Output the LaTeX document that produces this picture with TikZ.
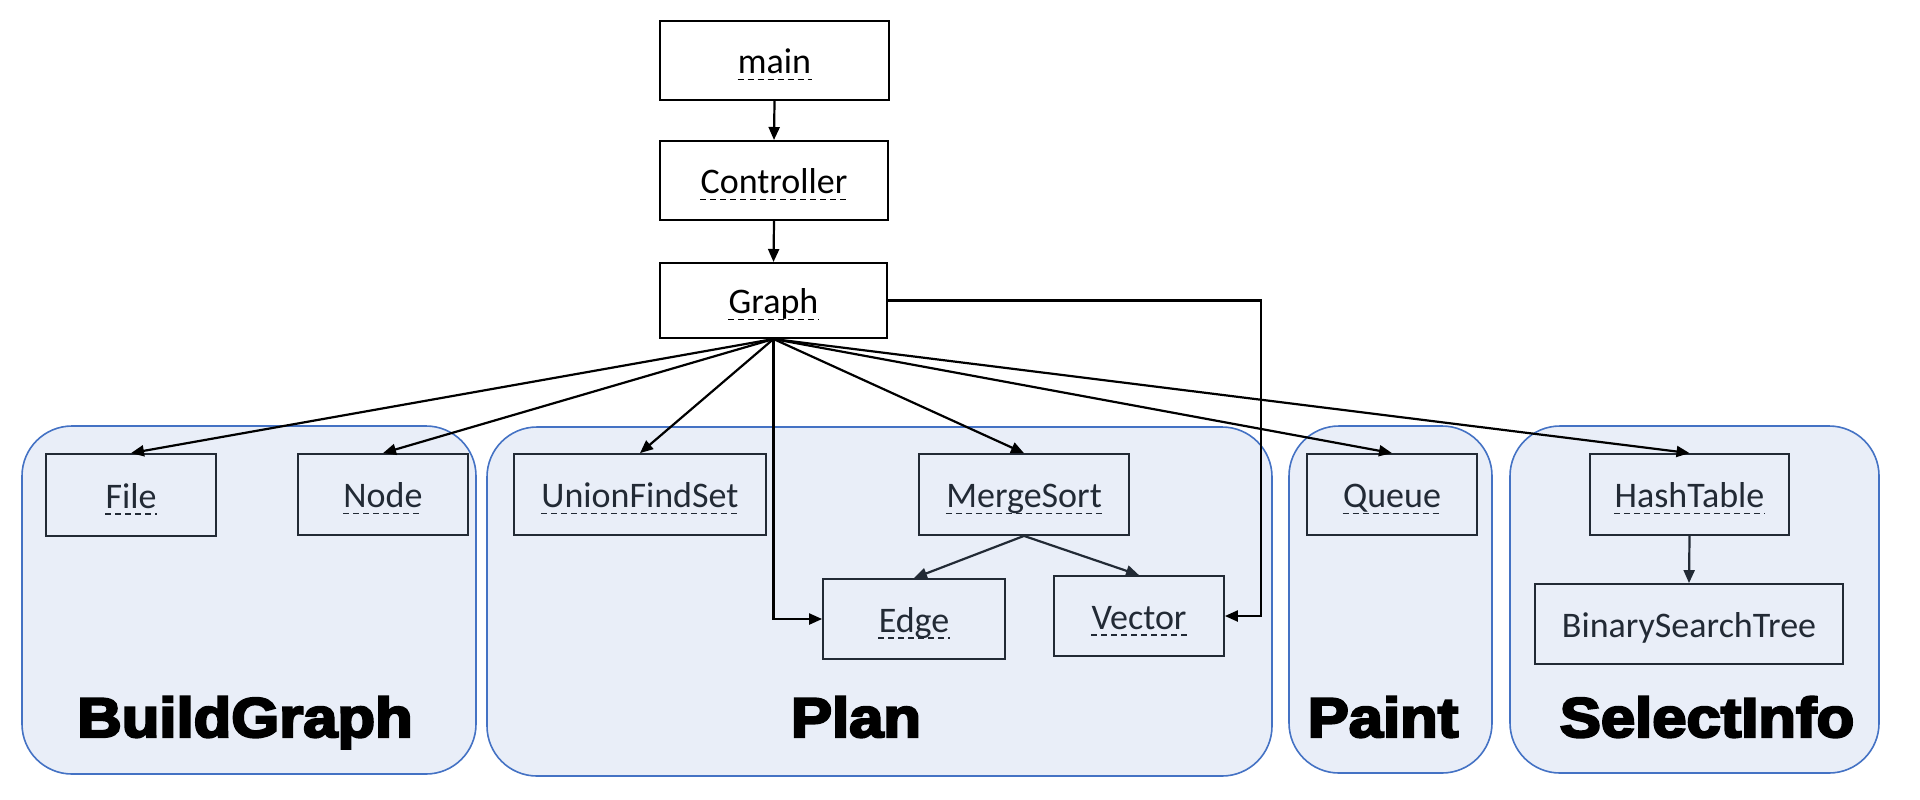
\documentclass[tikz,border=0pt]{standalone}
\usepackage{fontspec}
\usepackage{graphicx}
\setmainfont{Carlito}
\newfontfamily\grpfont{Liberation Sans}[BoldFeatures={FakeBold=4}]
\usetikzlibrary{arrows.meta,fit}
\definecolor{contfill}{RGB}{233,238,248}
\definecolor{contline}{RGB}{68,114,196}
\definecolor{dark}{RGB}{34,42,53}
\begin{document}
\begin{tikzpicture}[x=0.5pt,y=-0.5pt,
 cont/.style={draw=contline, fill=contfill, line width=0.8pt, rounded corners=25pt, inner sep=0pt},
 topbox/.style={draw=black, line width=1pt, inner sep=0pt},
 inbox/.style={draw=dark, line width=0.9pt, inner sep=0pt},
 lbl/.style={inner sep=0pt, anchor=base, yshift=-6.5pt, font=\fontsize{18}{20}\selectfont},
 grp/.style={inner sep=0pt, anchor=base, font=\grpfont\bfseries\fontsize{28}{30}\selectfont},
 ul/.style={line width=0.6pt, dash pattern=on 3pt off 2pt},
 arr/.style={line width=1.1pt, -{Triangle[length=6.5pt,width=5.5pt]}},
]
\useasboundingbox (0,0) rectangle (1920,799);
% containers
\node[cont, fit={(22,426) (476,774)}] (bgC) {};
\node[cont, fit={(487,427) (1272,776)}] (planC) {};
\node[cont, fit={(1289,426) (1492,773)}] (paintC) {};
\node[cont, fit={(1510,426) (1879,773)}] (selC) {};
% group labels
\node[grp] (bgT) at (245,737) {\scalebox{1.1}[1]{BuildGraph}};
\node[grp] (planT) at (856,737) {\scalebox{1.1}[1]{Plan}};
\node[grp] (paintT) at (1383,737) {\scalebox{1.1}[1]{Paint}};
\node[grp] (selT) at (1707,737) {\scalebox{1.1}[1]{SelectInfo}};
% boxes
\node[topbox, fit={(660,21) (889,100)}] (main) {};
\node[topbox, fit={(660,141) (888,220)}] (ctrl) {};
\node[topbox, fit={(660,263) (887,338)}] (graph) {};
\node[inbox, fit={(46,454) (216,536)}] (file) {};
\node[inbox, fit={(298,454) (468,535)}] (nodeB) {};
\node[inbox, fit={(514,454) (766,535)}] (ufs) {};
\node[inbox, fit={(919,454) (1129,535)}] (merge) {};
\node[inbox, fit={(823,579) (1005,659)}] (edge) {};
\node[inbox, fit={(1054,576) (1224,656)}] (vector) {};
\node[inbox, fit={(1307,454) (1477,535)}] (queue) {};
\node[inbox, fit={(1590,454) (1789,535)}] (hash) {};
\node[inbox, fit={(1535,584) (1843,664)}] (bst) {};
% labels
\node[lbl, text=black] (mainL) at (main.center) {main};
\node[lbl, text=black] (ctrlL) at (ctrl.center) {Controller};
\node[lbl, text=black] (graphL) at (graph.center) {Graph};
\node[lbl, text=dark] (fileL) at (file.center) {File};
\node[lbl, text=dark] (nodeBL) at (nodeB.center) {Node};
\node[lbl, text=dark] (ufsL) at (ufs.center) {UnionFindSet};
\node[lbl, text=dark] (mergeL) at (merge.center) {MergeSort};
\node[lbl, text=dark] (edgeL) at (edge.center) {Edge};
\node[lbl, text=dark] (vectorL) at (vector.center) {Vector};
\node[lbl, text=dark] (queueL) at (queue.center) {Queue};
\node[lbl, text=dark] (hashL) at (hash.center) {HashTable};
\node[lbl, text=dark] (bstL) at (bst.center) {BinarySearchTree};
\foreach \n in {mainL,ctrlL,graphL}
  \draw[ul, black] ([yshift=-3pt]\n.base west) -- ([yshift=-3pt]\n.base east);
\foreach \n in {fileL,nodeBL,ufsL,mergeL,edgeL,vectorL,queueL,hashL}
  \draw[ul, dark] ([yshift=-3pt]\n.base west) -- ([yshift=-3pt]\n.base east);
% arrows
\draw[arr] (main.south) -- (ctrl.north);
\draw[arr] (ctrl.south) -- (graph.north);
\foreach \t in {file,nodeB,ufs,merge,queue,hash}
  \draw[arr] (graph.south) -- (\t.north);
\draw[arr] (graph.south) |- (edge.west);
\coordinate (bend) at (1261,0);
\draw[arr] (graph.east) -- (graph.east -| bend) |- (vector.east);
\draw[arr, dark] (merge.south) -- (edge.north);
\draw[arr, dark] (merge.south) -- (vector.north);
\draw[arr, dark] (hash.south) -- (bst.north);
\end{tikzpicture}
\end{document}
